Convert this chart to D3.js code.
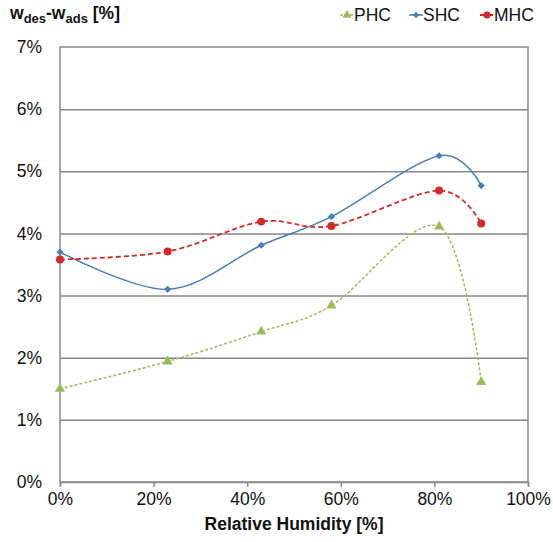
<!DOCTYPE html>
<html>
<head>
<meta charset="utf-8">
<script src="https://cdn.jsdelivr.net/npm/d3@7"></script>
<style>
  body { margin: 0; background: #fff; }
  svg { font-family: "Liberation Sans", Arial, sans-serif; }
</style>
</head>
<body>
<div id="chart"></div>
<script>
// relative humidity [%] and w_des - w_ads [%]
var humidity = [0, 23, 43, 58, 81, 90];
var phc = [1.50, 1.94, 2.42, 2.84, 4.11, 1.61];
var shc = [3.70, 3.10, 3.81, 4.27, 5.25, 4.77];
var mhc = [3.58, 3.71, 4.19, 4.12, 4.69, 4.16];
var xTicks = [0, 20, 40, 60, 80, 100];
var yTicks = [0, 1, 2, 3, 4, 5, 6, 7];

var W = 553, H = 542;
var margin = { top: 47, right: 25, bottom: 60, left: 60 },
    width = W - margin.left - margin.right,
    height = H - margin.top - margin.bottom;

var svg = d3.select("#chart")
  .append("svg")
    .attr("width", W)
    .attr("height", H);

var g = svg.append("g")
    .attr("transform", "translate(" + margin.left + "," + margin.top + ")");

var x = d3.scaleLinear().domain([0, 100]).range([0, width]);
var y = d3.scaleLinear().domain([0, 7]).range([height, 0]);

// gridlines
g.append("g")
  .call(d3.axisLeft(y).tickValues(yTicks.slice(1, -1)).tickSize(-width).tickFormat(""))
  .call(function(a) { a.select(".domain").remove(); })
  .selectAll("line")
    .attr("stroke", "#868686")
    .attr("stroke-width", 1.5);

// plot border
g.append("rect")
  .attr("width", width)
  .attr("height", height)
  .attr("fill", "none")
  .attr("stroke", "#8a8a8a")
  .attr("stroke-width", 1.5);

// x axis
var xAxis = g.append("g")
  .attr("transform", "translate(0," + height + ")")
  .call(d3.axisBottom(x).tickValues(xTicks).tickSize(5).tickPadding(6)
    .tickFormat(function(d) { return d + "%"; }));
xAxis.select(".domain").attr("stroke", "#8a8a8a").attr("stroke-width", 1.5);
xAxis.selectAll("line").attr("stroke", "#8a8a8a").attr("stroke-width", 1.5);
xAxis.selectAll("text").attr("font-size", 17.5).attr("fill", "#111");

// y axis labels
var yAxis = g.append("g")
  .call(d3.axisLeft(y).tickValues(yTicks).tickSize(0).tickPadding(18)
    .tickFormat(function(d) { return d + "%"; }));
yAxis.select(".domain").remove();
yAxis.selectAll("text").attr("font-size", 17.5).attr("fill", "#111");

var series = [
  { name: "PHC", values: phc, color: "#9bbb59", dash: "3,2", width: 1.5, marker: d3.symbolTriangle, size: 45, rot: 0 },
  { name: "SHC", values: shc, color: "#4a7ebb", dash: null, width: 1.5, marker: d3.symbolSquare, size: 26, rot: 45 },
  { name: "MHC", values: mhc, color: "#d42a2a", dash: "5,3", width: 1.8, marker: d3.symbolCircle, size: 50, rot: 0 }
];

var line = d3.line()
  .x(function(d) { return x(d[0]); })
  .y(function(d) { return y(d[1]); })
  .curve(d3.curveCardinal.tension(0));

series.forEach(function(s) {
  var pts = humidity.map(function(h, i) { return [h, s.values[i]]; });
  g.append("path")
    .datum(pts)
    .attr("fill", "none")
    .attr("stroke", s.color)
    .attr("stroke-width", s.width)
    .attr("stroke-dasharray", s.dash)
    .attr("d", line);
  g.selectAll(null)
    .data(pts)
    .enter()
    .append("path")
      .attr("transform", function(d) { return "translate(" + x(d[0]) + "," + y(d[1]) + ") rotate(" + s.rot + ")"; })
      .attr("d", d3.symbol().type(s.marker).size(s.size))
      .attr("fill", s.color);
});

// legend
var legendX = [347, 416, 487];
series.forEach(function(s, i) {
  var lg = svg.append("g").attr("transform", "translate(" + legendX[i] + ",15)");
  lg.append("line")
    .attr("x1", -7).attr("x2", 7)
    .attr("stroke", s.color)
    .attr("stroke-width", s.width)
    .attr("stroke-dasharray", s.dash);
  lg.append("path")
    .attr("transform", "rotate(" + s.rot + ")")
    .attr("d", d3.symbol().type(s.marker).size(s.size * 0.8))
    .attr("fill", s.color);
  lg.append("text")
    .attr("x", 7)
    .attr("y", 6)
    .attr("font-size", 17.5)
    .attr("fill", "#111")
    .text(s.name);
});

// y title
var yt = svg.append("text")
  .attr("x", 10)
  .attr("y", 19)
  .attr("font-size", 17.5)
  .attr("font-weight", "bold")
  .attr("fill", "#111");
yt.append("tspan").text("w");
yt.append("tspan").attr("font-size", 13).attr("dy", 4).text("des");
yt.append("tspan").attr("dy", -4).text("-w");
yt.append("tspan").attr("font-size", 13).attr("dy", 4).text("ads");
yt.append("tspan").attr("dy", -4).text(" [%]");

// x title
svg.append("text")
  .attr("x", margin.left + width / 2)
  .attr("y", 530)
  .attr("text-anchor", "middle")
  .attr("font-size", 17.5)
  .attr("font-weight", "bold")
  .attr("fill", "#111")
  .text("Relative Humidity [%]");
</script>
</body>
</html>
